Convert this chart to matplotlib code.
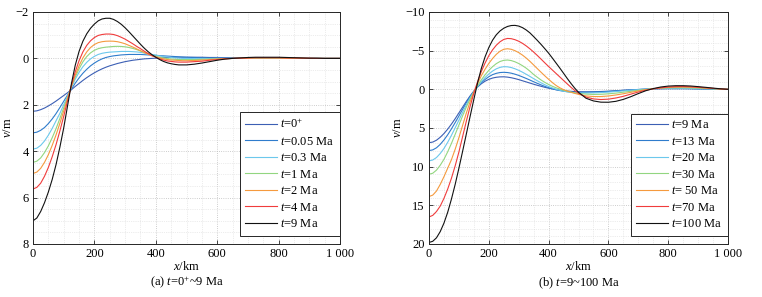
import matplotlib
matplotlib.use("Agg")
import matplotlib.pyplot as plt
import numpy as np
from matplotlib.ticker import MultipleLocator

plt.rcParams["font.family"] = ["Liberation Serif", "DejaVu Serif"]
plt.rcParams["mathtext.fontset"] = "custom"
plt.rcParams["mathtext.rm"] = "Liberation Serif"
plt.rcParams["mathtext.it"] = "Liberation Serif:italic"
plt.rcParams["font.size"] = 9

x_km = list(np.arange(0, 500, 12.5)) + list(range(500, 1001, 25))

# (a) t = 0+ ~ 9 Ma, deflection v (m)
a_t0p = [2.28, 2.26, 2.21, 2.14, 2.05, 1.95, 1.84, 1.72, 1.60, 1.48, 1.35, 1.21,
         1.08, 0.95, 0.83, 0.72, 0.62, 0.53, 0.45, 0.38, 0.32, 0.27, 0.22, 0.18,
         0.14, 0.11, 0.08, 0.06, 0.04, 0.02, 0.01, 0.0, -0.01, -0.02, -0.03, -0.04,
         -0.04, -0.05, -0.05, -0.05,
         -0.05, -0.05, -0.05, -0.04, -0.04, -0.03, -0.03, -0.02, -0.02, -0.01,
         -0.01, 0, 0, 0, 0, 0, 0, 0, 0, 0, 0]
a_t005 = [3.21, 3.18, 3.10, 2.98, 2.81, 2.61, 2.38, 2.12, 1.85, 1.58, 1.32, 1.07,
          0.84, 0.64, 0.47, 0.32, 0.20, 0.10, 0.02, -0.04, -0.08, -0.11, -0.13,
          -0.15, -0.16, -0.17, -0.17, -0.17, -0.17, -0.16, -0.15, -0.14, -0.13,
          -0.12, -0.11, -0.10, -0.09, -0.08, -0.07, -0.06,
          -0.05, -0.04, -0.03, -0.02, -0.02, -0.01, -0.01, 0, 0, 0, 0, 0, 0, 0,
          0, 0, 0, 0, 0, 0, 0]
a_t03 = [3.91, 3.87, 3.75, 3.56, 3.31, 3.02, 2.69, 2.37, 2.00, 1.62, 1.26, 0.90,
         0.60, 0.36, 0.17, 0.02, -0.09, -0.17, -0.22, -0.25, -0.27, -0.28, -0.29,
         -0.30, -0.30, -0.30, -0.29, -0.28, -0.26, -0.23, -0.20, -0.17, -0.14,
         -0.11, -0.08, -0.06, -0.04, -0.02, -0.01, 0.0,
         0.0, 0.01, 0.01, 0.01, 0.0, 0, 0, 0, 0, 0, 0, 0, 0, 0, 0, 0, 0, 0, 0, 0, 0]
a_t1 = [4.48, 4.43, 4.29, 4.06, 3.77, 3.42, 3.03, 2.59, 2.13, 1.67, 1.22, 0.81,
        0.45, 0.15, -0.08, -0.24, -0.35, -0.42, -0.46, -0.485, -0.50, -0.515,
        -0.52, -0.515, -0.50, -0.47, -0.43, -0.38, -0.32, -0.26, -0.20, -0.14,
        -0.09, -0.05, -0.02, 0.01, 0.03, 0.04, 0.05, 0.05,
        0.05, 0.05, 0.04, 0.03, 0.02, 0.01, 0, 0, -0.01, -0.01, -0.01, -0.01,
        -0.01, 0, 0, 0, 0, 0, 0, 0, 0]
a_t2 = [4.96, 4.90, 4.74, 4.48, 4.15, 3.75, 3.30, 2.80, 2.27, 1.73, 1.20, 0.73,
        0.32, -0.02, -0.28, -0.47, -0.60, -0.68, -0.72, -0.74, -0.745, -0.74,
        -0.72, -0.68, -0.63, -0.56, -0.49, -0.41, -0.33, -0.25, -0.18, -0.11,
        -0.06, -0.02, 0.02, 0.05, 0.07, 0.08, 0.09, 0.10,
        0.10, 0.09, 0.07, 0.05, 0.03, 0.01, 0, -0.01, -0.01, -0.02, -0.02, -0.02,
        -0.02, -0.01, -0.01, -0.01, 0, 0, 0, 0, 0]
a_t4 = [5.63, 5.56, 5.38, 5.08, 4.70, 4.24, 3.72, 3.13, 2.50, 1.83, 1.17, 0.58,
        0.10, -0.28, -0.56, -0.76, -0.90, -0.99, -1.03, -1.05, -1.05, -1.03,
        -0.98, -0.91, -0.83, -0.73, -0.63, -0.52, -0.42, -0.31, -0.21, -0.12,
        -0.05, 0.02, 0.07, 0.11, 0.13, 0.15, 0.16, 0.16,
        0.16, 0.14, 0.12, 0.08, 0.05, 0.02, 0.0, -0.01, -0.02, -0.03, -0.03, -0.03,
        -0.03, -0.02, -0.02, -0.01, -0.01, 0, 0, 0, 0]
a_t9 = [7.00, 6.88, 6.60, 6.22, 5.76, 5.22, 4.58, 3.83, 3.00, 2.05, 1.10, 0.30,
        -0.30, -0.74, -1.06, -1.30, -1.48, -1.62, -1.70, -1.73, -1.73, -1.68,
        -1.59, -1.47, -1.32, -1.15, -0.97, -0.79, -0.61, -0.44, -0.29, -0.16,
        -0.05, 0.05, 0.13, 0.19, 0.23, 0.26, 0.28, 0.28,
        0.28, 0.25, 0.20, 0.14, 0.08, 0.03, 0.00, -0.02, -0.04, -0.05, -0.05,
        -0.05, -0.05, -0.04, -0.03, -0.02, -0.01, -0.01, 0, 0, 0]
a_labels = [r"$t$=0$^{+}$", r"$t$=0.05 Ma", r"$t$=0.3 Ma", r"$t$=1 Ma",
            r"$t$=2 Ma", r"$t$=4 Ma", r"$t$=9 Ma"]

# (b) t = 9 ~ 100 Ma
b_t9 = [6.90, 6.82, 6.58, 6.20, 5.72, 5.15, 4.50, 3.80, 3.05, 2.30, 1.55, 0.85,
        0.22, -0.30, -0.72, -1.05, -1.29, -1.46, -1.56, -1.61, -1.62, -1.58,
        -1.50, -1.39, -1.26, -1.11, -0.96, -0.81, -0.66, -0.52, -0.39, -0.26,
        -0.15, -0.05, 0.04, 0.11, 0.17, 0.22, 0.26, 0.29,
        0.31, 0.32, 0.31, 0.28, 0.24, 0.18, 0.12, 0.06, 0.02, -0.02, -0.05, -0.07,
        -0.08, -0.08, -0.08, -0.07, -0.05, -0.04, -0.02, -0.01, 0]
b_t13 = [7.92, 7.83, 7.56, 7.12, 6.55, 5.88, 5.12, 4.30, 3.45, 2.58, 1.72, 0.95,
         0.28, -0.33, -0.85, -1.28, -1.63, -1.90, -2.07, -2.17, -2.20, -2.17,
         -2.09, -1.96, -1.80, -1.61, -1.41, -1.20, -0.98, -0.77, -0.57, -0.38,
         -0.21, -0.07, 0.06, 0.16, 0.24, 0.30, 0.34, 0.37,
         0.38, 0.38, 0.36, 0.32, 0.27, 0.20, 0.13, 0.07, 0.02, -0.03, -0.07,
         -0.09, -0.10, -0.10, -0.10, -0.09, -0.07, -0.05, -0.03, -0.01, 0]
b_t20 = [9.25, 9.14, 8.82, 8.30, 7.65, 6.85, 5.95, 4.98, 3.98, 2.98, 2.00, 1.10,
         0.32, -0.36, -0.98, -1.52, -1.98, -2.36, -2.65, -2.84, -2.93, -2.91,
         -2.82, -2.66, -2.46, -2.22, -1.95, -1.67, -1.38, -1.10, -0.84, -0.59,
         -0.37, -0.18, -0.02, 0.12, 0.24, 0.33, 0.40, 0.44,
         0.47, 0.48, 0.46, 0.42, 0.36, 0.28, 0.20, 0.11, 0.04, -0.03, -0.08,
         -0.12, -0.13, -0.14, -0.13, -0.12, -0.09, -0.07, -0.04, -0.02, 0]
b_t30 = [10.98, 10.85, 10.45, 9.82, 9.05, 8.08, 7.00, 5.82, 4.62, 3.42, 2.28, 1.25,
         0.35, -0.48, -1.22, -1.88, -2.45, -2.93, -3.32, -3.60, -3.75, -3.79,
         -3.72, -3.56, -3.34, -3.06, -2.74, -2.35, -1.92, -1.55, -1.20, -0.90,
         -0.63, -0.40, -0.20, -0.03, 0.12, 0.25, 0.36, 0.45,
         0.52, 0.62, 0.66, 0.64, 0.58, 0.49, 0.37, 0.25, 0.13, 0.02, -0.07,
         -0.14, -0.19, -0.21, -0.21, -0.19, -0.15, -0.11, -0.07, -0.03, 0]
b_t50 = [13.86, 13.68, 13.15, 12.30, 11.30, 10.20, 9.10, 7.75, 6.25, 4.65, 3.05,
         1.60, 0.35, -0.75, -1.75, -2.60, -3.35, -3.98, -4.52, -4.93, -5.18,
         -5.25, -5.18, -5.00, -4.75, -4.43, -4.05, -3.62, -3.15, -2.67, -2.20,
         -1.74, -1.30, -0.88, -0.50, -0.20, 0.04, 0.22, 0.38, 0.52,
         0.65, 0.85, 0.93, 0.93, 0.86, 0.73, 0.57, 0.39, 0.21, 0.05, -0.08,
         -0.18, -0.25, -0.29, -0.30, -0.28, -0.23, -0.17, -0.11, -0.05, 0]
b_t70 = [16.50, 16.30, 15.80, 15.10, 14.10, 12.90, 11.50, 9.90, 8.10, 6.10, 4.10,
         2.20, 0.50, -1.00, -2.30, -3.40, -4.35, -5.10, -5.70, -6.15, -6.45,
         -6.58, -6.55, -6.42, -6.22, -5.95, -5.62, -5.24, -4.82, -4.37, -3.90,
         -3.42, -2.95, -2.50, -2.05, -1.60, -1.15, -0.70, -0.26, 0.15,
         0.50, 1.00, 1.24, 1.32, 1.27, 1.12, 0.90, 0.62, 0.35, 0.12, -0.06,
         -0.20, -0.30, -0.35, -0.36, -0.33, -0.27, -0.20, -0.12, -0.05, 0]
b_t100 = [19.80, 19.65, 19.20, 18.40, 17.30, 15.90, 14.20, 12.30, 10.20, 8.00,
          5.75, 3.50, 1.30, -0.85, -2.70, -4.20, -5.40, -6.35, -7.05, -7.55,
          -7.90, -8.13, -8.25, -8.27, -8.18, -7.98, -7.68, -7.30, -6.82, -6.32,
          -5.80, -5.25, -4.68, -4.05, -3.40, -2.75, -2.08, -1.40, -0.75, -0.15,
          0.38, 1.15, 1.50, 1.66, 1.67, 1.55, 1.30, 0.95, 0.55, 0.18, -0.10,
          -0.30, -0.42, -0.47, -0.47, -0.43, -0.35, -0.26, -0.16, -0.07, 0]
b_labels = [r"$t$=9 Ma", r"$t$=13 Ma", r"$t$=20 Ma", r"$t$=30 Ma",
            r"$t$= 50 Ma", r"$t$=70 Ma", r"$t$=100 Ma"]

colors = ["#3c5fb4", "#2f7ccc", "#6cc8ec", "#92d680", "#f59a3e", "#f03c3c", "#111111"]

x_ticks = [0, 200, 400, 600, 800, 1000]
x_ticklabels = ["0", "200", "400", "600", "800", "1 000"]

W, H = 762, 297
fig = plt.figure(figsize=(W / 100, H / 100), dpi=100)
ax_a = fig.add_axes([33 / W, 1 - 244 / H, 307 / W, 232 / H])
ax_b = fig.add_axes([429 / W, 1 - 244 / H, 299 / W, 232 / H])

edge = "#262626"


def style(ax, ylim, ymajor, yminor, caption):
    ax.set_xlim(0, 1000)
    ax.set_ylim(*ylim)
    ax.set_xticks(x_ticks)
    ax.set_xticklabels(x_ticklabels)
    ax.xaxis.set_minor_locator(MultipleLocator(50))
    ax.yaxis.set_major_locator(MultipleLocator(ymajor))
    ax.yaxis.set_minor_locator(MultipleLocator(yminor))
    ax.tick_params(which="major", direction="in", top=True, right=True,
                   length=3, width=0.6, color=edge, pad=3, labelsize=9)
    ax.tick_params(which="minor", length=0)
    ax.grid(which="major", ls=":", color="#bdbdbd", lw=0.6)
    ax.grid(which="minor", ls=":", color="#dadada", lw=0.5)
    ax.set_axisbelow(True)
    for s in ax.spines.values():
        s.set_color(edge)
        s.set_linewidth(0.7)
    ax.set_xlabel(r"$x$/km", labelpad=0, fontsize=9)
    ax.set_ylabel(r"$v$/m", labelpad=1, fontsize=9)
    pos = ax.get_position()
    fig.text((pos.x0 + pos.x1) / 2, 1 - 283 / H, caption, ha="center",
             va="center", fontsize=9)


curves_a = [a_t0p, a_t005, a_t03, a_t1, a_t2, a_t4, a_t9]
for v, c, lab in zip(curves_a, colors, a_labels):
    ax_a.plot(x_km, v, color=c, lw=0.8, label=lab)
style(ax_a, (8, -2), 2, 0.5, r"(a) $t$=0$^{+}$~9 Ma")

curves_b = [b_t9, b_t13, b_t20, b_t30, b_t50, b_t70, b_t100]
for v, c, lab in zip(curves_b, colors, b_labels):
    ax_b.plot(x_km, v, color=c, lw=0.8, label=lab)
style(ax_b, (20, -10), 5, 1, r"(b) $t$=9~100 Ma")

for ax in (ax_a, ax_b):
    leg = ax.legend(loc="lower right", bbox_to_anchor=(1.0, 0.035), fontsize=9,
                    fancybox=False, framealpha=1, edgecolor=edge,
                    handlelength=2.5, handletextpad=0.3, labelspacing=0.36,
                    borderpad=0.45, borderaxespad=0)
    leg.get_frame().set_linewidth(0.7)

fig.savefig("out.png", dpi=100)
